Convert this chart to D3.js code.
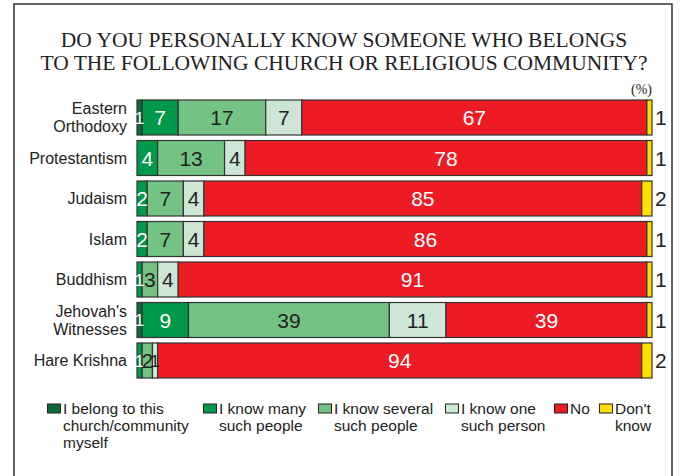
<!DOCTYPE html>
<html>
<head>
<meta charset="utf-8">
<script src="https://cdn.jsdelivr.net/npm/d3@7"></script>
<style>
  body { margin: 0; background: #fff; }
  svg { display: block; font-family: 'Liberation Sans', Arial, sans-serif; }
</style>
</head>
<body>
<div id="chart"></div>
<script>
// categories (rows), top to bottom
var religions = [
  ['Eastern', 'Orthodoxy'],
  ['Protestantism'],
  ['Judaism'],
  ['Islam'],
  ['Buddhism'],
  ["Jehovah's", 'Witnesses'],
  ['Hare Krishna']
]

// answers (series), left to right
var answers = [
  ['I belong to this', 'church/community', 'myself'],
  ['I know many', 'such people'],
  ['I know several', 'such people'],
  ['I know one', 'such person'],
  ['No'],
  ["Don't", 'know']
]

// values in %, one array per series, in row order
var belong = [1, 0, 0, 0, 0, 1, 0]
var knowMany = [7, 4, 2, 2, 1, 9, 1]
var knowSeveral = [17, 13, 7, 7, 3, 39, 2]
var knowOne = [7, 4, 4, 4, 4, 11, 1]
var no = [67, 78, 85, 86, 91, 39, 94]
var dontKnow = [1, 1, 2, 1, 1, 1, 2]

var series = [belong, knowMany, knowSeveral, knowOne, no, dontKnow]
var colors = ['#0b6b38', '#00984a', '#74c385', '#cde6d5', '#ed1c24', '#ffde00']
var labelColors = ['#fff', '#fff', '#222', '#222', '#fff', '#222']

var width = 680
var height = 476

var svg = d3.select('#chart')
  .append('svg')
  .attr('width', width)
  .attr('height', height)

// frame
svg.append('path')
  .attr('d', 'M14,476 V4 H672 V476')
  .attr('fill', 'none')
  .attr('stroke', '#333')
  .attr('stroke-width', 1.5)

// title
var title = ['DO YOU PERSONALLY KNOW SOMEONE WHO BELONGS', 'TO THE FOLLOWING CHURCH OR RELIGIOUS COMMUNITY?']
svg.selectAll('.title')
  .data(title)
  .enter()
  .append('text')
  .attr('class', 'title')
  .attr('x', 344)
  .attr('y', (d, i) => 47 + i * 23)
  .attr('text-anchor', 'middle')
  .attr('font-family', "'Liberation Serif', 'Times New Roman', serif")
  .attr('font-size', '21.5px')
  .attr('fill', '#222')
  .text(d => d)

svg.append('text')
  .attr('x', 652)
  .attr('y', 94)
  .attr('text-anchor', 'end')
  .attr('font-family', "'Liberation Serif', 'Times New Roman', serif")
  .attr('font-size', '14px')
  .attr('fill', '#222')
  .text('(%)')

// scales
var xPositionScale = d3.scaleLinear().domain([0, 100]).range([137, 652])
var yPositionScale = d3.scaleBand()
  .domain(d3.range(religions.length))
  .range([97.25, 380.75])
  .paddingInner(0.136)
  .paddingOuter(0.068)

// stack the series per row
var rows = religions.map(function(r, i) {
  var row = {}
  series.forEach(function(s, k) { row[k] = s[i] })
  return row
})
var stacked = d3.stack().keys(d3.range(series.length))(rows)

var band = yPositionScale.bandwidth()

stacked.forEach(function(layer, k) {
  var g = svg.append('g')
  layer.forEach(function(seg, i) {
    var v = seg[1] - seg[0]
    if (v <= 0) return
    g.append('rect')
      .attr('x', xPositionScale(seg[0]))
      .attr('y', yPositionScale(i))
      .attr('width', xPositionScale(seg[1]) - xPositionScale(seg[0]))
      .attr('height', band)
      .attr('fill', colors[k])
      .attr('stroke', '#333')
      .attr('stroke-width', 1.2)
  })
})

// value labels (tiny segments get a condensed label, as in the original)
stacked.forEach(function(layer, k) {
  layer.forEach(function(seg, i) {
    var v = seg[1] - seg[0]
    if (v <= 0) return
    var outside = k === series.length - 1
    var segW = xPositionScale(seg[1]) - xPositionScale(seg[0])
    svg.append('text')
      .attr('x', outside ? xPositionScale(100) + 3 : (xPositionScale(seg[0]) + xPositionScale(seg[1])) / 2)
      .attr('y', yPositionScale(i) + band / 2)
      .attr('dy', '0.36em')
      .attr('text-anchor', outside ? 'start' : 'middle')
      .attr('font-size', !outside && segW < 8 ? '17px' : '21px')
      .attr('fill', labelColors[k])
      .text(v)
  })
})

// category labels
religions.forEach(function(lines, i) {
  var cy = yPositionScale(i) + band / 2
  var t = svg.append('text')
    .attr('text-anchor', 'end')
    .attr('font-size', '16px')
    .attr('fill', '#222')
  lines.forEach(function(line, j) {
    t.append('tspan')
      .attr('x', 127)
      .attr('y', cy + (j - (lines.length - 1) / 2) * 18)
      .attr('dy', '0.35em')
      .text(line)
  })
})

// legend
var legendX = [47, 203, 318, 445, 554, 599]
answers.forEach(function(lines, k) {
  var g = svg.append('g').attr('transform', 'translate(' + legendX[k] + ',0)')
  g.append('rect')
    .attr('x', 0.5)
    .attr('y', 404)
    .attr('width', 13)
    .attr('height', 9)
    .attr('fill', colors[k])
    .attr('stroke', '#222')
    .attr('stroke-width', 1)
  lines.forEach(function(line, j) {
    g.append('text')
      .attr('x', 16)
      .attr('y', 414 + j * 17)
      .attr('font-size', '15.5px')
      .attr('fill', '#222')
      .text(line)
  })
})
</script>
</body>
</html>
